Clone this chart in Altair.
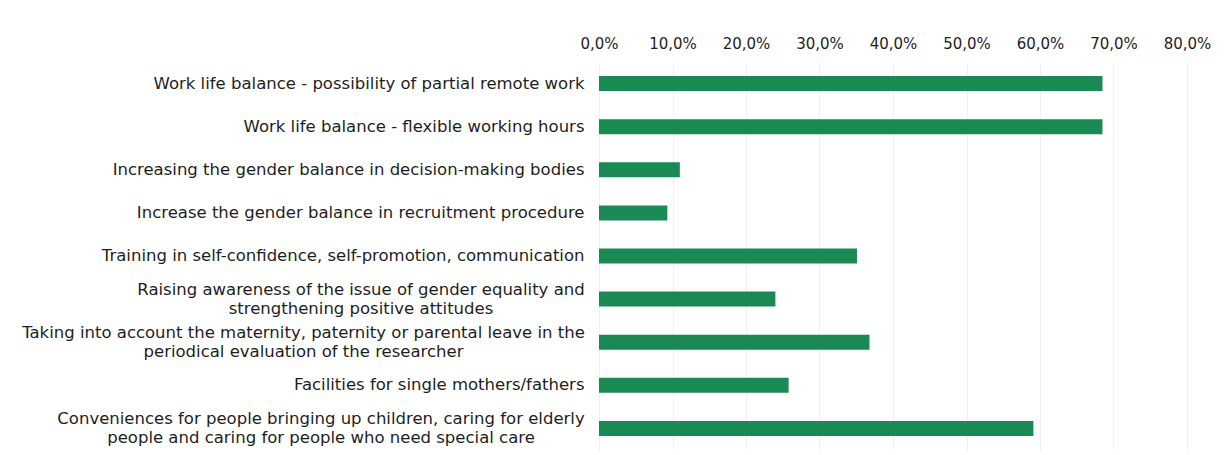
import altair as alt
import pandas as pd

categories = [
    "Work life balance - possibility of partial remote work",
    "Work life balance - flexible working hours",
    "Increasing the gender balance in decision-making bodies",
    "Increase the gender balance in recruitment procedure",
    "Training in self-confidence, self-promotion, communication",
    "Raising awareness of the issue of gender equality and|strengthening positive attitudes",
    "Taking into account the maternity, paternity or parental leave in the|periodical evaluation of the researcher",
    "Facilities for single mothers/fathers",
    "Conveniences for people bringing up children, caring for elderly|people and caring for people who need special care",
]
values = [0.685, 0.685, 0.110, 0.093, 0.351, 0.240, 0.368, 0.258, 0.591]
ticks = [0, 0.1, 0.2, 0.3, 0.4, 0.5, 0.6, 0.7, 0.8]

df = pd.DataFrame({"cat": categories, "val": values})

FONT = "DejaVu Sans"
multi = "indexof(datum.value, '|') >= 0"

chart = alt.Chart(df).mark_bar(color="#1a8a55", height=15).encode(
    x=alt.X("val:Q",
            scale=alt.Scale(domain=[0, 0.8], nice=False),
            axis=alt.Axis(orient="top", values=ticks, title=None,
                          labelExpr="replace(format(datum.value, '.1%'), '.', ',')",
                          domain=False, ticks=False, labelPadding=11,
                          labelFlush=False,
                          labelFontSize=15, labelColor="#1e1e1e",
                          labelFont=FONT,
                          gridColor="#f0f0f0", gridWidth=1)),
    y=alt.Y("cat:N", sort=categories, title=None,
            axis=alt.Axis(labelExpr="split(datum.value, '|')",
                          domain=False, ticks=False, grid=False,
                          labelLimit=800,
                          labelFontSize=16.5, labelColor="#1e1e1e",
                          labelFont=FONT,
                          labelOffset={"condition": {"test": multi, "value": -9.5}, "value": 0},
                          labelLineHeight=19,
                          labelAlign={"condition": {"test": multi, "value": "center"}, "value": "right"},
                          labelPadding={"condition": [
                              {"test": "indexof(datum.value, 'Raising') >= 0", "value": 238.5},
                              {"test": "indexof(datum.value, 'Taking') >= 0", "value": 296},
                              {"test": "indexof(datum.value, 'Conveniences') >= 0", "value": 278.5},
                          ], "value": 15})),
).properties(
    width=588, height=388,
    autosize=alt.AutoSizeParams(type="none"),
    padding={"left": 591, "top": 54, "right": 33, "bottom": 5},
).configure_view(stroke=None)

chart.save("out.html", embed_options={"renderer": "svg", "actions": False})
